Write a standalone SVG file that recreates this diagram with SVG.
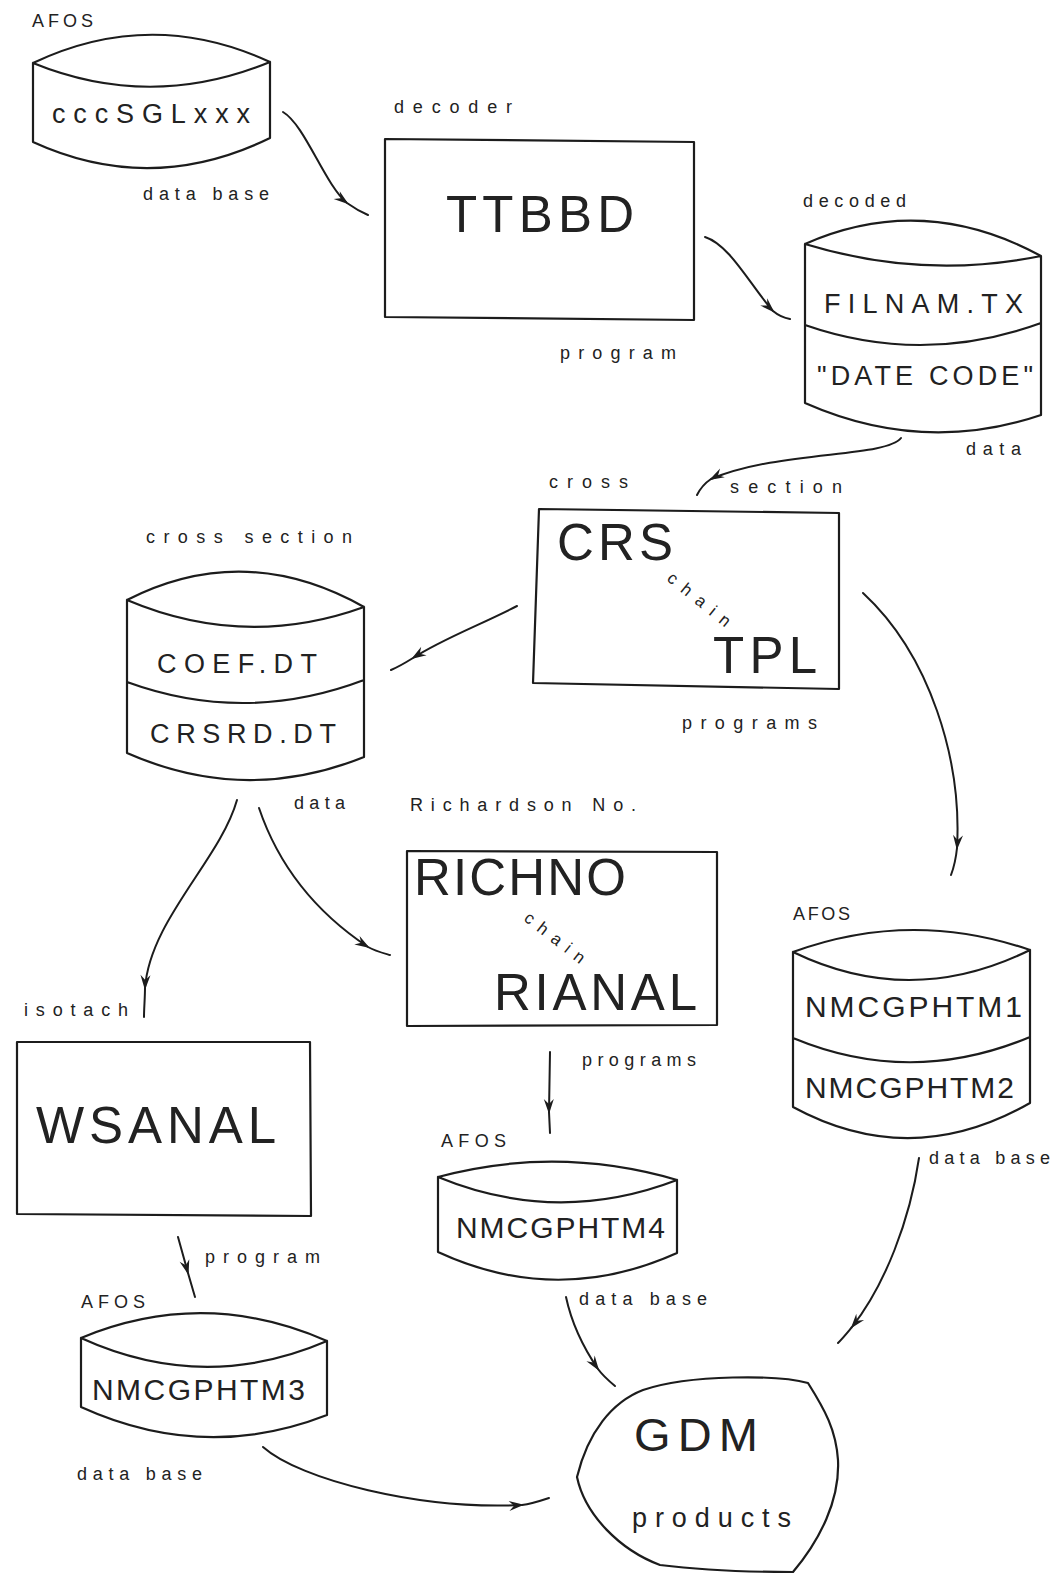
<svg xmlns="http://www.w3.org/2000/svg" width="1056" height="1573" viewBox="0 0 1056 1573">
<style>
.sh{fill:none;stroke:#1c1c1c;stroke-width:2.2;stroke-linejoin:round;stroke-linecap:round}
.cn{fill:none;stroke:#1c1c1c;stroke-width:2;stroke-linecap:round;marker-mid:url(#ah)}
text{font-family:"Liberation Sans",Arial,sans-serif;fill:#222}
.lb{font-size:18px}
.md{font-size:27px}
.nm{font-size:30px}
.bg{font-size:51px}
.ch{font-size:17px}
</style>
<defs>
<marker id="ah" viewBox="-15 -6 18 12" refX="0" refY="0" markerWidth="18" markerHeight="12" markerUnits="userSpaceOnUse" orient="auto">
<path d="M2,0 L-13,-5 L-8,0 L-13,5 Z" fill="#1c1c1c"/>
</marker>
</defs>
<rect width="1056" height="1573" fill="#ffffff"/>

<g id="connectors">
<path class="cn" d="M283,112 C305,125 325,185 347,203 C354,208 361,212 368,215"/>
<path class="cn" d="M705,237 C730,245 750,285 773,311 C779,316 784,318 790,319"/>
<path class="cn" d="M901,438 C885,458 780,450 711,479 C705,483 700,489 697,495"/>
<path class="cn" d="M517,606 C480,625 440,640 413,658 C405,663 398,667 391,670"/>
<path class="cn" d="M863,593 C930,655 962,760 957,848 C956,858 954,867 951,875"/>
<path class="cn" d="M237,800 C220,860 150,920 145,988 C145,998 144,1008 144,1017"/>
<path class="cn" d="M259,808 C280,870 320,915 368,947 C375,951 383,953 390,955"/>
<path class="cn" d="M550,1052 L549,1112 L550,1133"/>
<path class="cn" d="M178,1237 L188,1273 L195,1297"/>
<path class="cn" d="M566,1297 C572,1325 585,1350 598,1369 C603,1376 609,1381 615,1386"/>
<path class="cn" d="M919,1158 C910,1220 885,1285 852,1327 C847,1333 843,1338 838,1343"/>
<path class="cn" d="M263,1447 C300,1480 420,1510 522,1505 C531,1504 540,1501 549,1498"/>
</g>

<g id="cccSGLxxx">
<path class="sh" d="M33,63 Q151,7 270,62 M33,63 Q151,111 270,62 M33,63 L33,142 Q151,196 270,138 L270,62"/>
<text x="32" y="27" class="lb" textLength="61" lengthAdjust="spacing">AFOS</text>
<text x="52" y="123" class="md" textLength="198" lengthAdjust="spacing">cccSGLxxx</text>
<text x="143" y="200" class="lb" textLength="126" lengthAdjust="spacing">data base</text>
</g>

<g id="TTBBD">
<polygon class="sh" points="385,139 694,142 694,320 385,317"/>
<text x="394" y="113" class="lb" textLength="118" lengthAdjust="spacing">decoder</text>
<text x="446" y="232" class="bg" textLength="188" lengthAdjust="spacing">TTBBD</text>
<text x="560" y="359" class="lb" textLength="116" lengthAdjust="spacing">program</text>
</g>

<g id="FILNAM">
<path class="sh" d="M805,244 Q923,192 1041,256 M805,244 Q923,280 1041,256 M805,325 Q923,366 1041,323 M805,244 L805,403 Q923,455 1041,415 L1041,256"/>
<text x="803" y="207" class="lb" textLength="103" lengthAdjust="spacing">decoded</text>
<text x="824" y="313" class="md" textLength="199" lengthAdjust="spacing">FILNAM.TX</text>
<text x="817" y="385" class="md" textLength="216" lengthAdjust="spacing">"DATE CODE"</text>
<text x="966" y="455" class="lb" textLength="55" lengthAdjust="spacing">data</text>
</g>

<g id="CRS">
<polygon class="sh" points="539,509 839,513 839,689 533,683"/>
<text x="549" y="488" class="lb" textLength="79" lengthAdjust="spacing">cross</text>
<text x="730" y="493" class="lb" textLength="112" lengthAdjust="spacing">section</text>
<text x="557" y="560" class="bg" textLength="116" lengthAdjust="spacing">CRS</text>
<text transform="translate(666,580) rotate(39)" class="ch" textLength="76" lengthAdjust="spacing">chain</text>
<text x="713" y="673" class="bg" textLength="104" lengthAdjust="spacing">TPL</text>
<text x="682" y="729" class="lb" textLength="135" lengthAdjust="spacing">programs</text>
</g>

<g id="COEF">
<path class="sh" d="M127,600 Q245,540 364,607 M127,600 Q245,650 364,607 M127,682 Q245,725 364,680 M127,600 L127,753 Q245,805 364,757 L364,607"/>
<text x="146" y="543" class="lb" textLength="206" lengthAdjust="spacing">cross section</text>
<text x="157" y="673" class="md" textLength="160" lengthAdjust="spacing">COEF.DT</text>
<text x="150" y="743" class="md" textLength="186" lengthAdjust="spacing">CRSRD.DT</text>
<text x="294" y="809" class="lb" textLength="51" lengthAdjust="spacing">data</text>
</g>

<g id="RICHNO">
<polygon class="sh" points="407,851 717,852 717,1025 407,1026"/>
<text x="410" y="811" class="lb" textLength="226" lengthAdjust="spacing">Richardson No.</text>
<text x="414" y="895" class="bg" textLength="212" lengthAdjust="spacing">RICHNO</text>
<text transform="translate(523,920) rotate(38)" class="ch" textLength="72" lengthAdjust="spacing">chain</text>
<text x="494" y="1010" class="bg" textLength="203" lengthAdjust="spacing">RIANAL</text>
<text x="582" y="1066" class="lb" textLength="114" lengthAdjust="spacing">programs</text>
</g>

<g id="WSANAL">
<polygon class="sh" points="17,1042 310,1042 311,1216 17,1214"/>
<text x="24" y="1016" class="lb" textLength="104" lengthAdjust="spacing">isotach</text>
<text x="36" y="1143" class="bg" textLength="240" lengthAdjust="spacing">WSANAL</text>
<text x="205" y="1263" class="lb" textLength="115" lengthAdjust="spacing">program</text>
</g>

<g id="NMCGPHTM12">
<path class="sh" d="M793,952 Q911,909 1030,950 M793,952 Q911,1009 1030,950 M793,1038 Q911,1087 1030,1037 M793,952 L793,1107 Q911,1171 1030,1103 L1030,950"/>
<text x="793" y="920" class="lb" textLength="57" lengthAdjust="spacing">AFOS</text>
<text x="805" y="1017" class="nm" textLength="217" lengthAdjust="spacing">NMCGPHTM1</text>
<text x="805" y="1098" class="nm" textLength="209" lengthAdjust="spacing">NMCGPHTM2</text>
<text x="929" y="1164" class="lb" textLength="121" lengthAdjust="spacing">data base</text>
</g>

<g id="NMCGPHTM4">
<path class="sh" d="M438,1177 Q557,1145 677,1180 M438,1177 Q557,1226 677,1180 M438,1177 L438,1252 Q557,1307 677,1253 L677,1180"/>
<text x="441" y="1147" class="lb" textLength="65" lengthAdjust="spacing">AFOS</text>
<text x="456" y="1238" class="nm" textLength="209" lengthAdjust="spacing">NMCGPHTM4</text>
<text x="579" y="1305" class="lb" textLength="128" lengthAdjust="spacing">data base</text>
</g>

<g id="NMCGPHTM3">
<path class="sh" d="M81,1338 Q204,1287 327,1341 M81,1338 Q204,1394 327,1341 M81,1338 L81,1407 Q204,1463 327,1415 L327,1341"/>
<text x="81" y="1308" class="lb" textLength="64" lengthAdjust="spacing">AFOS</text>
<text x="92" y="1400" class="nm" textLength="213" lengthAdjust="spacing">NMCGPHTM3</text>
<text x="77" y="1480" class="lb" textLength="125" lengthAdjust="spacing">data base</text>
</g>

<g id="GDM">
<path class="sh" d="M808,1383 C780,1375 690,1374 643,1390 C612,1402 588,1432 577,1477 C585,1515 620,1550 660,1565 C700,1570 750,1572 793,1572 C820,1540 840,1500 838,1460 C836,1430 825,1410 808,1383 Z"/>
<text x="634" y="1451" style="font-size:47px" textLength="124" lengthAdjust="spacing">GDM</text>
<text x="632" y="1527" class="md" textLength="159" lengthAdjust="spacing">products</text>
</g>
</svg>
